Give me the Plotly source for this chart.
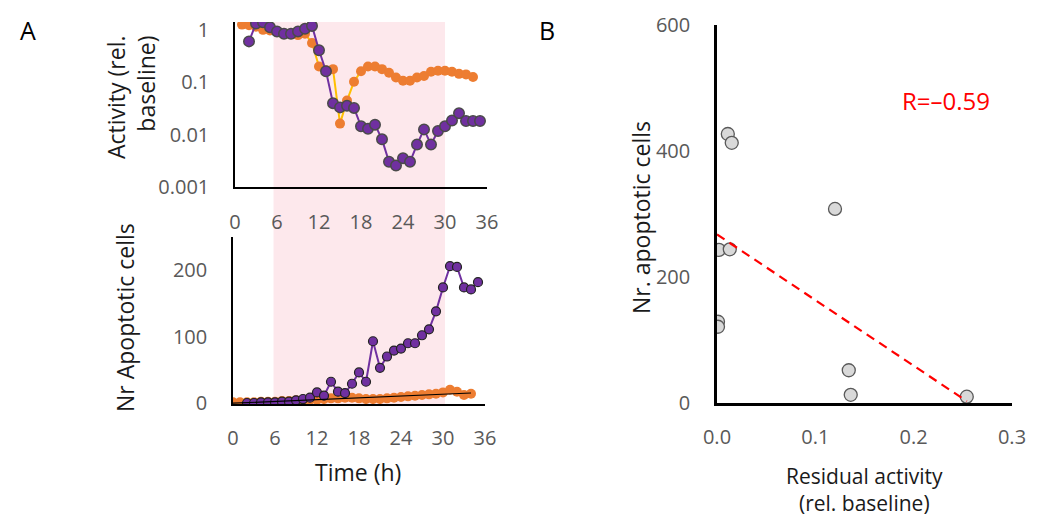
import numpy as np
import plotly.graph_objects as go

# ---------------- data ----------------
# Panel A top: activity (relative to baseline), log scale
act_orange_t = list(range(1, 35))
act_orange_log = [0.10, 0.09, 0.06, 0.00, -0.01, -0.03, -0.075, -0.08, -0.10, -0.075,
                  -0.25, -0.70, -0.77, -0.75, -1.79, -1.35, -0.99, -0.79, -0.70, -0.70,
                  -0.75, -0.82, -0.91, -0.97, -0.97, -0.91, -0.88, -0.80, -0.78, -0.78,
                  -0.80, -0.84, -0.85, -0.90]
act_orange = [10 ** v for v in act_orange_log]

act_purple_t = list(range(2, 36))
act_purple_log = [-0.22, 0.12, 0.145, 0.05, -0.03, -0.075, -0.075, -0.03, 0.02, 0.075,
                  -0.39, -0.79, -1.40, -1.48, -1.45, -1.49, -1.84, -1.89, -1.81, -2.09,
                  -2.52, -2.59, -2.45, -2.52, -2.19, -1.90, -2.19, -1.93, -1.84, -1.73,
                  -1.59, -1.74, -1.74, -1.74]
act_purple = [10 ** v for v in act_purple_log]

# Panel A bottom: number of apoptotic cells
apo_orange_t = list(range(0, 35))
apo_orange = [1, 1, 1, 1, 2, 2, 2, 3, 3, 4, 4, 5, 5, 6, 7, 7, 8, 8, 7, 6,
              6, 6, 7, 8, 9, 10, 11, 12, 13, 14, 16, 20, 17, 12, 14]

apo_purple_t = list(range(2, 36))
apo_purple = [0, 0, 1, 1, 1, 2, 2, 4, 6, 8, 16, 11, 32, 17, 15, 29, 46, 32, 93, 53,
              70, 79, 82, 90, 90, 102, 111, 138, 174, 206, 205, 174, 171, 182]

treat_start, treat_end = 5.5, 30

time_ticks = [0, 6, 12, 18, 24, 30, 36]
act_ticks = [0.001, 0.01, 0.1, 1]
act_tick_text = ["0.001", "0.01", "0.1", "1"]
apo_ticks = [0, 100, 200]

# Panel B: residual activity vs apoptotic cells
resid = [0.011, 0.015, 0.120, 0.002, 0.013, 0.001, 0.001, 0.134, 0.136, 0.254]
napop = [427, 413, 308, 243, 244, 129, 121, 52, 13, 10]
b_xticks = [0.0, 0.1, 0.2, 0.3]
b_yticks = [0, 200, 400, 600]

# ---------------- helpers ----------------
W, H = 1040, 519
OFF = 8  # page body margin
def pxx(x):
    return (x - OFF) / W
def pxy(y):
    return 1 - (y - OFF) / H

TICKC = "#595959"
FONT = "Open Sans"
ORANGE = "#ED7D31"
YELLOW = "#FFC000"
PURPLE = "#7030A0"

fig = go.Figure()

# top panel
fig.add_trace(go.Scatter(x=act_orange_t, y=act_orange, mode="lines+markers",
                         line=dict(color=YELLOW, width=2),
                         marker=dict(color=ORANGE, size=10),
                         xaxis="x", yaxis="y", showlegend=False))
fig.add_trace(go.Scatter(x=act_purple_t, y=act_purple, mode="lines+markers",
                         line=dict(color=PURPLE, width=2),
                         marker=dict(color=PURPLE, size=10.5, line=dict(color="#4a4a4a", width=1.5)),
                         xaxis="x", yaxis="y", showlegend=False))

# bottom panel
fig.add_trace(go.Scatter(x=apo_orange_t, y=apo_orange, mode="lines+markers",
                         line=dict(color=ORANGE, width=2),
                         marker=dict(color=ORANGE, size=10),
                         xaxis="x2", yaxis="y2", showlegend=False))
fig.add_trace(go.Scatter(x=apo_purple_t, y=apo_purple, mode="lines+markers",
                         line=dict(color=PURPLE, width=2),
                         marker=dict(color=PURPLE, size=9, line=dict(color="#222222", width=1.2)),
                         xaxis="x2", yaxis="y2", showlegend=False))
# linear trend of control series
k, b0 = np.polyfit(apo_orange_t, apo_orange, 1)
tt = np.array([min(apo_orange_t), max(apo_orange_t)])
fig.add_trace(go.Scatter(x=tt, y=k * tt + b0, mode="lines",
                         line=dict(color="black", width=1.2),
                         xaxis="x2", yaxis="y2", showlegend=False))

# panel B
fig.add_trace(go.Scatter(x=resid, y=napop, mode="markers",
                         marker=dict(color="#D9D9D9", size=13, line=dict(color="#595959", width=1.3)),
                         xaxis="x3", yaxis="y3", showlegend=False))
slope, icpt = np.polyfit(resid, napop, 1)
r = np.corrcoef(resid, napop)[0, 1]
xx = np.array([0.0, max(resid)])
fig.add_trace(go.Scatter(x=xx, y=slope * xx + icpt, mode="lines",
                         line=dict(color="#FF0000", width=2.2, dash="9px,6px"),
                         xaxis="x3", yaxis="y3", showlegend=False))

tickfont = dict(family=FONT, size=20, color=TICKC)
common = dict(showgrid=False, zeroline=False, showline=True, linecolor="black",
              ticks="", tickfont=tickfont, automargin=False)

fig.update_layout(
    template="none",
    width=W, height=H, margin=dict(l=0, r=0, t=0, b=0, pad=0),
    plot_bgcolor="white", paper_bgcolor="white",
    xaxis=dict(domain=[pxx(235), pxx(487)], range=[0, 36], tickvals=time_ticks,
               anchor="y", linewidth=1.5, ticklabelstandoff=16, **common),
    yaxis=dict(domain=[pxy(187), pxy(22)], type="log", range=[-3, 0.15],
               tickvals=act_ticks, ticktext=act_tick_text, anchor="x",
               linewidth=1.5, ticklabelstandoff=20, **common),
    xaxis2=dict(domain=[pxx(233), pxx(485)], range=[0, 36], tickvals=time_ticks,
                anchor="y2", linewidth=1.5, ticklabelstandoff=15, **common),
    yaxis2=dict(domain=[pxy(404), pxy(237)], range=[-1.5, 250], tickvals=apo_ticks,
                anchor="x2", linewidth=1.5, ticklabelstandoff=20, **common),
    xaxis3=dict(domain=[pxx(717), pxx(1012)], range=[0, 0.3], tickvals=b_xticks,
                tickformat=".1f", anchor="y3", linewidth=2.5, ticklabelstandoff=14, **common),
    yaxis3=dict(domain=[pxy(403), pxy(25)], range=[0, 600], tickvals=b_yticks,
                anchor="x3", linewidth=2.5, ticklabelstandoff=20, **common),
)

# treatment shading spanning both panels of A
fig.add_shape(type="rect", xref="x", yref="paper", x0=treat_start, x1=treat_end,
              y0=pxy(405), y1=pxy(22), fillcolor="rgba(250,205,212,0.45)",
              line=dict(width=0), layer="below")

TF = dict(family=FONT, size=23, color="#1a1a1a")
ann = []
ann.append(dict(text="A", x=pxx(28), y=pxy(30), font=dict(family=FONT, size=25, color="black")))
ann.append(dict(text="B", x=pxx(547), y=pxy(30), font=dict(family=FONT, size=25, color="black")))
ann.append(dict(text="Activity (rel.<br>baseline)", x=pxx(131), y=pxy(97), textangle=-90,
                align="right", font=TF))
ann.append(dict(text="Nr Apoptotic cells", x=pxx(125), y=pxy(318), textangle=-90, font=TF))
ann.append(dict(text="Time (h)", x=pxx(358), y=pxy(472), font=TF))
ann.append(dict(text="Nr. apoptotic cells", x=pxx(641), y=pxy(218), textangle=-90, font=TF))
ann.append(dict(text="Residual activity<br>(rel. baseline)", x=pxx(864), y=pxy(489),
                font=dict(family=FONT, size=21, color="#1a1a1a")))
ann.append(dict(text="R=\u2013%.2f" % abs(r), x=pxx(946), y=pxy(101),
                font=dict(family=FONT, size=24, color="#FF0000")))
for a in ann:
    a.update(xref="paper", yref="paper", showarrow=False, xanchor="center", yanchor="middle")
fig.update_layout(annotations=ann)

fig.write_html("out.html")
